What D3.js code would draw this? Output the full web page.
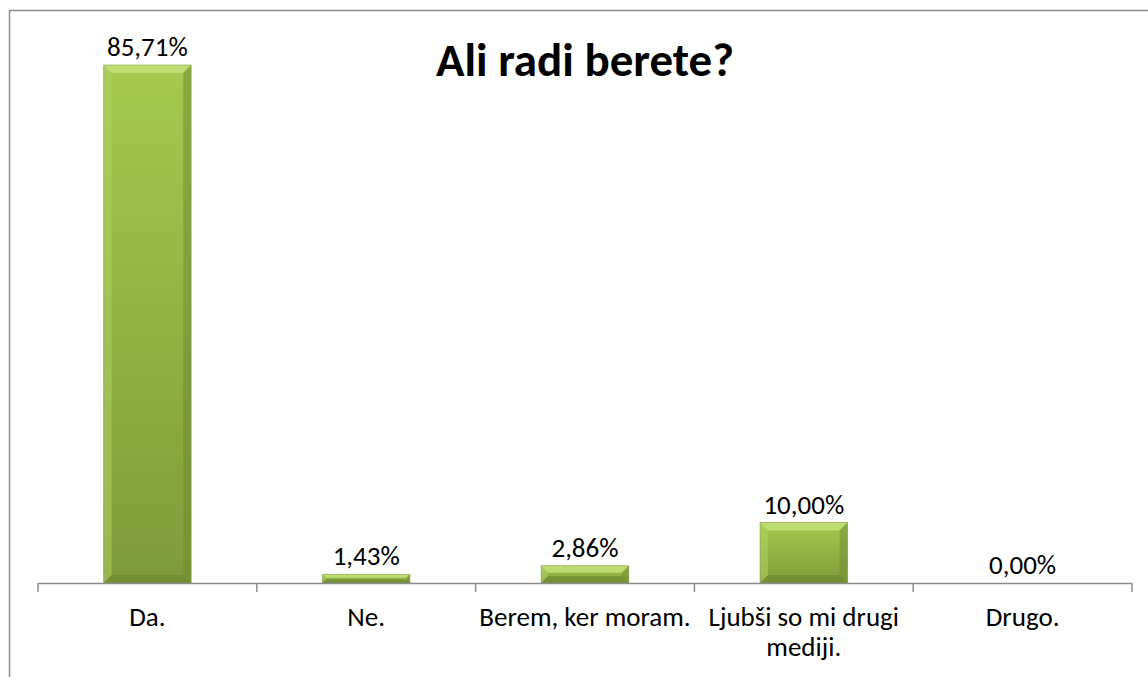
<!DOCTYPE html>
<html>
<head>
<meta charset="utf-8">
<script src="https://cdn.jsdelivr.net/npm/d3@7"></script>
<style>
  html, body { margin: 0; background: #fff; overflow: hidden; }
  svg { display: block; font-family: Calibri, Carlito, "Open Sans", "Liberation Sans", sans-serif; }
</style>
</head>
<body>
<div id="chart"></div>
<script>
(() => {
    let categories = ['Da.', 'Ne.', 'Berem, ker moram.', 'Ljubši so mi drugi mediji.', 'Drugo.'];
    let values = [85.71, 1.43, 2.86, 10.00, 0.00];
    let labels = ['85,71%', '1,43%', '2,86%', '10,00%', '0,00%'];
    let catLines = [['Da.'], ['Ne.'], ['Berem, ker moram.'], ['Ljubši so mi drugi', 'mediji.'], ['Drugo.']];

    let W = 1148, H = 677;
    let svg = d3.select('#chart').append('svg')
        .attr('width', W)
        .attr('height', H);

    // chart frame (cut off at right and bottom like the source)
    svg.append('rect')
        .attr('x', 9.5).attr('y', 10.5)
        .attr('width', 1300).attr('height', 800)
        .attr('fill', '#fff')
        .attr('stroke', '#8c8c8c')
        .attr('stroke-width', 1.5);

    let x = d3.scaleBand()
        .domain(categories)
        .range([38, 1132])
        .paddingInner(0.6)
        .paddingOuter(0.3);

    let y = d3.scaleLinear()
        .domain([0, 85.71])
        .range([583, 65]);

    let defs = svg.append('defs');
    let g = defs.append('linearGradient')
        .attr('id', 'barGrad')
        .attr('x1', 0).attr('y1', 0).attr('x2', 0).attr('y2', 1);
    g.append('stop').attr('offset', '0%').attr('stop-color', '#a4ca4e');
    g.append('stop').attr('offset', '100%').attr('stop-color', '#7e9b3a');

    let bars = svg.selectAll('.bar')
        .data(values.map((v, i) => ({ cat: categories[i], v: v, label: labels[i] })))
        .enter()
        .append('g')
        .attr('class', 'bar');

    bars.filter(d => d.v > 0).each(function(d) {
        let el = d3.select(this);
        let x0 = x(d.cat), w = x.bandwidth();
        let y0 = y(d.v), h = y(0) - y0;
        let b = Math.min(8, h / 2.5);
        el.append('rect')
            .attr('x', x0).attr('y', y0)
            .attr('width', w).attr('height', h)
            .attr('fill', 'url(#barGrad)');
        // bevel faces
        let pt = (a) => a.map(p => p.join(',')).join(' ');
        el.append('polygon')
            .attr('points', pt([[x0, y0], [x0 + w, y0], [x0 + w - b, y0 + b], [x0 + b, y0 + b]]))
            .attr('fill', '#c3e07a').attr('opacity', 0.85);
        el.append('polygon')
            .attr('points', pt([[x0, y0], [x0 + b, y0 + b], [x0 + b, y0 + h - b], [x0, y0 + h]]))
            .attr('fill', '#b3d463').attr('opacity', 0.5);
        el.append('polygon')
            .attr('points', pt([[x0 + w, y0], [x0 + w, y0 + h], [x0 + w - b, y0 + h - b], [x0 + w - b, y0 + b]]))
            .attr('fill', '#6f8a30').attr('opacity', 0.5);
        el.append('polygon')
            .attr('points', pt([[x0, y0 + h], [x0 + b, y0 + h - b], [x0 + w - b, y0 + h - b], [x0 + w, y0 + h]]))
            .attr('fill', '#6a8530').attr('opacity', 0.6);
        el.append('rect')
            .attr('x', x0).attr('y', y0)
            .attr('width', w).attr('height', h)
            .attr('fill', 'none')
            .attr('stroke', '#7a963a')
            .attr('stroke-opacity', 0.5)
            .attr('stroke-width', 1);
    });

    bars.append('text')
        .attr('x', d => x(d.cat) + x.bandwidth() / 2)
        .attr('y', d => y(d.v) - 9)
        .attr('text-anchor', 'middle')
        .attr('font-size', 27)
        .attr('fill', '#000')
        .text(d => d.label);

    // axis line and ticks at category boundaries
    let bounds = d3.range(categories.length + 1).map(i => 38 + i * (1094 / categories.length));
    svg.append('line')
        .attr('x1', 38).attr('x2', 1132)
        .attr('y1', y(0) + 0.5).attr('y2', y(0) + 0.5)
        .attr('stroke', '#8c8c8c').attr('stroke-width', 1.5);
    svg.selectAll('.tick')
        .data(bounds)
        .enter()
        .append('line')
        .attr('x1', d => d).attr('x2', d => d)
        .attr('y1', y(0)).attr('y2', y(0) + 9)
        .attr('stroke', '#8c8c8c').attr('stroke-width', 1.5);

    // category labels, wrapped
    categories.forEach((c, i) => {
        let t = svg.append('text')
            .attr('x', x(c) + x.bandwidth() / 2)
            .attr('y', 626)
            .attr('text-anchor', 'middle')
            .attr('font-size', 27)
            .attr('fill', '#000');
        catLines[i].forEach((ln, j) => {
            t.append('tspan')
                .attr('x', x(c) + x.bandwidth() / 2)
                .attr('dy', j === 0 ? 0 : 30)
                .text(ln);
        });
    });

    svg.append('text')
        .attr('x', 585)
        .attr('y', 76)
        .attr('text-anchor', 'middle')
        .attr('font-size', 47)
        .attr('font-weight', 'bold')
        .attr('fill', '#000')
        .text('Ali radi berete?');
})();
</script>
</body>
</html>
